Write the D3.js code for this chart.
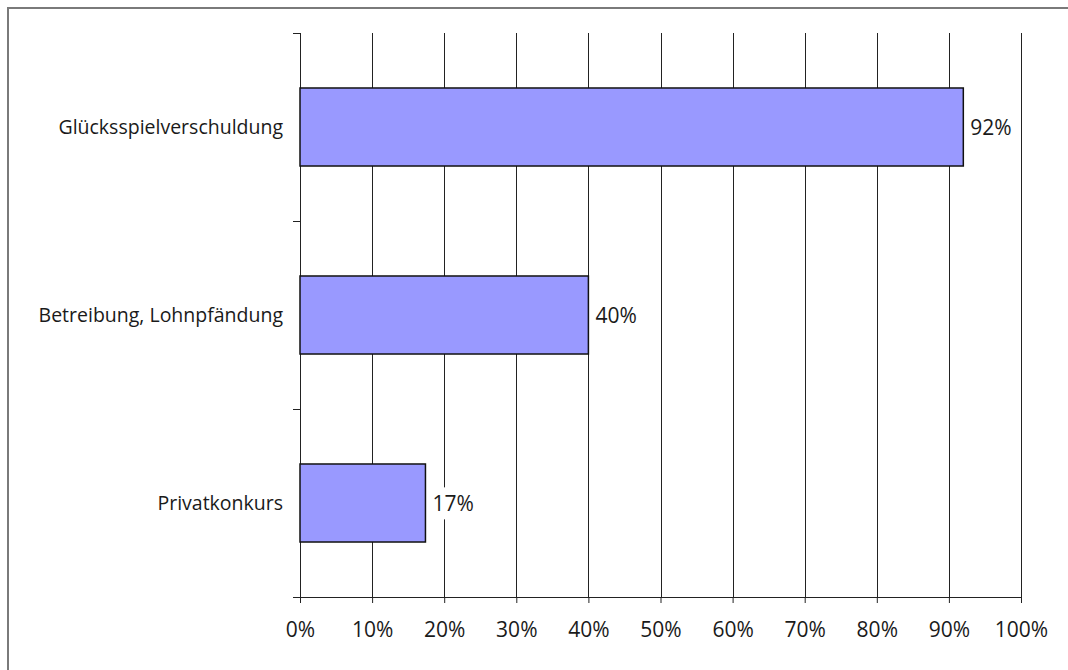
<!DOCTYPE html>
<html>
<head>
<meta charset="utf-8">
<script src="https://cdn.jsdelivr.net/npm/d3@7"></script>
<style>
  html, body { margin: 0; padding: 0; background: #fff; }
  svg { display: block; }
  text { font-family: "Open Sans", "DejaVu Sans", sans-serif; fill: #1a1a1a; }
</style>
</head>
<body>
<svg id="chart" width="1068" height="670"></svg>
<script>
// Categories, top to bottom
const categories = ["Glücksspielverschuldung", "Betreibung, Lohnpfändung", "Privatkonkurs"];
// Share of cases per category
const values = [0.92, 0.40, 0.174];
// X axis tick values
const xTicks = [0, 0.1, 0.2, 0.3, 0.4, 0.5, 0.6, 0.7, 0.8, 0.9, 1.0];

const FS = 19.5;     // category labels
const FS_NUM = 21;   // percentage labels
const svg = d3.select("#chart");
const W = 1068, H = 670;
const margin = { left: 300, right: 47, top: 33, bottom: 73 };
const plotW = W - margin.left - margin.right;
const plotH = H - margin.top - margin.bottom;

// outer frame (left and top edges visible)
svg.append("path")
  .attr("d", `M8,${H} V8 H${W}`)
  .attr("fill", "none")
  .attr("stroke", "#7a7a7a")
  .attr("stroke-width", 2);

const g = svg.append("g").attr("transform", `translate(${margin.left},${margin.top})`);

const x = d3.scaleLinear().domain([0, 1]).range([0, plotW]);
const y = d3.scaleBand().domain(categories).range([0, plotH]).paddingInner(0.585).paddingOuter(0.2925);

const pct = d3.format(".0%");

// vertical gridlines
g.append("g").selectAll("line")
  .data(xTicks.slice(1))
  .join("line")
  .attr("x1", d => Math.round(x(d)) + 0.5)
  .attr("x2", d => Math.round(x(d)) + 0.5)
  .attr("y1", 0).attr("y2", plotH)
  .attr("stroke", "#222").attr("stroke-width", 1);

// x axis
const xAxis = g.append("g")
  .attr("transform", `translate(0,${plotH})`)
  .call(d3.axisBottom(x).tickValues(xTicks).tickFormat(pct).tickSize(6).tickPadding(19).tickSizeOuter(0));
xAxis.attr("font-size", null).attr("font-family", null);
xAxis.select(".domain").attr("stroke", "#222").attr("d", `M-7,0.5H${plotW}`);
xAxis.selectAll(".tick line").attr("stroke", "#222");
xAxis.selectAll("text").attr("font-size", FS_NUM).attr("fill", "#1a1a1a");

// y axis line and category separators
const yAxis = g.append("g");
yAxis.append("line")
  .attr("x1", 0.5).attr("x2", 0.5).attr("y1", 0).attr("y2", plotH)
  .attr("stroke", "#222");
yAxis.selectAll("line.sep")
  .data(d3.range(categories.length + 1))
  .join("line")
  .attr("class", "sep")
  .attr("x1", -7).attr("x2", 0)
  .attr("y1", i => Math.round(i * plotH / categories.length) + 0.5)
  .attr("y2", i => Math.round(i * plotH / categories.length) + 0.5)
  .attr("stroke", "#222");

// category labels
g.append("g").selectAll("text")
  .data(categories)
  .join("text")
  .attr("x", -17)
  .attr("y", d => y(d) + y.bandwidth() / 2)
  .attr("dy", "0.35em")
  .attr("text-anchor", "end")
  .attr("font-size", FS)
  .text(d => d);

// bars
g.append("g").selectAll("rect")
  .data(values)
  .join("rect")
  .attr("x", x(0))
  .attr("y", (d, i) => y(categories[i]))
  .attr("width", d => x(d) - x(0))
  .attr("height", y.bandwidth())
  .attr("fill", "#9999ff")
  .attr("stroke", "#111")
  .attr("stroke-width", 1.5);

// value labels with white backing
const lbl = g.append("g").selectAll("g")
  .data(values)
  .join("g")
  .attr("transform", (d, i) => `translate(${x(d) + 7},${y(categories[i]) + y.bandwidth() / 2 + 1})`);
lbl.append("text")
  .attr("dy", "0.35em")
  .attr("font-size", FS_NUM)
  .text(d => pct(d));
lbl.each(function () {
  const t = d3.select(this).select("text");
  const b = t.node().getBBox();
  d3.select(this).insert("rect", "text")
    .attr("x", b.x - 2).attr("y", b.y - 2)
    .attr("width", b.width + 4).attr("height", b.height + 4)
    .attr("fill", "#fff");
});
</script>
</body>
</html>
